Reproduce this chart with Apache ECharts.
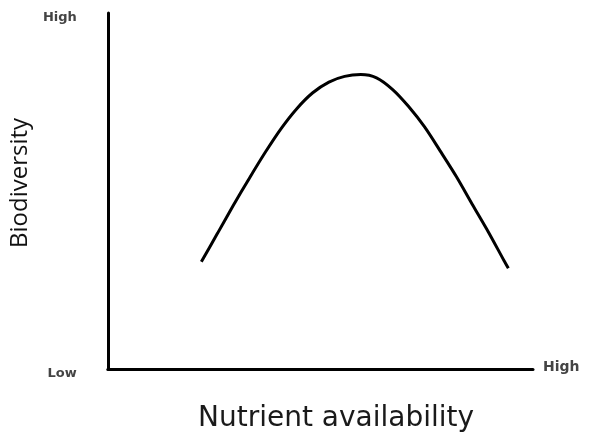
<!DOCTYPE html>
<html><head><meta charset="utf-8">
<script src="https://cdn.jsdelivr.net/npm/echarts@6/dist/echarts.min.js"></script>
<style>html,body{margin:0;padding:0;background:#fff}#c{width:590px;height:433px}</style>
</head><body><div id="c"></div>
<script>
// Nutrient availability (0..100, relative) and biodiversity (0..100, relative)
const nutrient = [22.0, 25.8, 29.5, 33.3, 37.0, 40.8, 44.5, 48.2, 52.0, 55.7, 59.5, 63.2, 67.0, 70.7, 74.5, 78.2, 82.0, 85.7, 89.5, 93.2, 94.2];
const biodiversity = [30.1, 38.1, 45.9, 53.6, 60.8, 67.6, 73.2, 77.6, 80.6, 82.2, 82.7, 81.8, 78.5, 73.8, 68.0, 61.2, 54.0, 46.3, 38.5, 30.4, 28.3];
const yTickLabels = {0: 'Low', 100: 'High'};
const xEndLabel = 'High';
const xTitle = 'Nutrient availability';
const yTitle = 'Biodiversity';

const chart = echarts.init(document.getElementById('c'));
chart.setOption({
  animation: false,
  backgroundColor: '#fff',
  title: {
    text: xTitle, left: 193, top: 400,
    textStyle: {fontFamily: 'DejaVu Sans', fontSize: 28, fontWeight: 'normal', color: '#1a1a1a'}
  },
  grid: {left: 106, right: 57, top: 13, bottom: 64},
  xAxis: {
    type: 'value', min: 0, max: 100,
    name: xEndLabel, nameLocation: 'end', nameGap: 10,
    nameTextStyle: {fontFamily: 'DejaVu Sans', fontSize: 14, fontWeight: 'bold', color: '#444', verticalAlign: 'bottom', padding: [0,0,-5,0]},
    axisLine: {show: true, lineStyle: {color: '#000', width: 3}},
    axisTick: {show: false}, axisLabel: {show: false}, splitLine: {show: false}
  },
  yAxis: {
    type: 'value', min: 0, max: 100, interval: 100,
    name: yTitle, nameLocation: 'middle', nameGap: 66, nameRotate: 90,
    nameTextStyle: {fontFamily: 'Open Sans', fontSize: 24, color: '#111', padding: [0, 0, 0, 16]},
    axisLine: {show: true, lineStyle: {color: '#000', width: 3}},
    axisTick: {show: false}, splitLine: {show: false},
    axisLabel: {
      margin: 31,
      formatter: v => yTickLabels[v] ? '{a|' + yTickLabels[v] + '}' : '',
      rich: {a: {fontFamily: 'DejaVu Sans', fontSize: 13, fontWeight: 'bold', color: '#444', padding: [9, 0, 0, 0]}}
    }
  },
  series: [{
    type: 'line', smooth: 0.3, showSymbol: false,
    lineStyle: {color: '#000', width: 3},
    data: nutrient.map((x, i) => [x, biodiversity[i]])
  }]
});
</script></body></html>
